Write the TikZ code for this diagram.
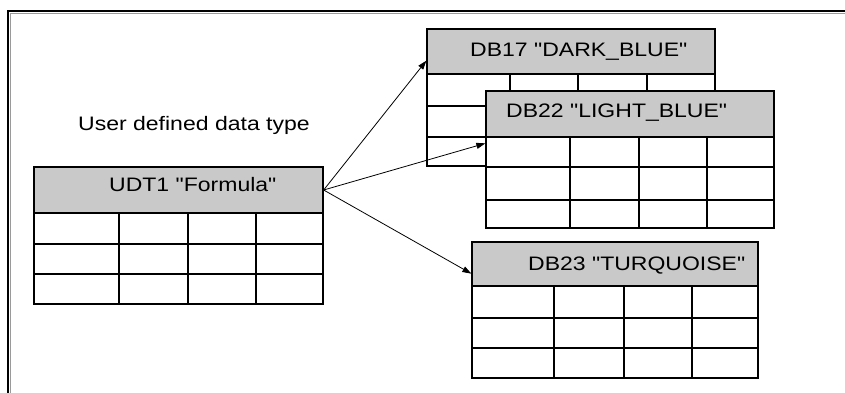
\documentclass[tikz,border=0pt]{standalone}
\usepackage{fontspec}
\usepackage{tikz}
\usetikzlibrary{arrows.meta,positioning}
\newfontfamily\tblfont[FakeStretch=1.18]{Liberation Sans}
\definecolor{hdrgray}{HTML}{C9C9C9}
\definecolor{framegray}{HTML}{9A9A9A}

\begin{document}
\begin{tikzpicture}[x=1pt,y=1pt,
  hdr/.style={rectangle,draw=black,line width=1.3pt,fill=hdrgray,inner sep=0pt},
  body/.style={rectangle,draw=black,line width=1.3pt,fill=white,inner sep=0pt},
  grid/.style={black,line width=1.3pt},
  lbl/.style={anchor=base west,inner sep=0pt,font=\tblfont\fontsize{19.5}{22}\selectfont},
  link/.style={-{Triangle[length=9pt,width=6pt]},black,line width=0.8pt}]
\fill[white] (0,0) rectangle (845,392);
\useasboundingbox (0,0) rectangle (845,392);
% frame
\draw[framegray,line width=1pt] (10.5,-2) -- (10.5,378.5) -- (847,378.5);
\draw[black,line width=2pt] (8,-2) -- (8,381) -- (847,381);
\node[lbl] (udtnote) at (78,261.3) {User defined data type};
% UDT1
\node[hdr,minimum width=289pt,minimum height=46pt] (udth) at (178.5,202) {};
\node[body,minimum width=289pt,minimum height=91pt] (udtb) at (178.5,133.5) {};
\draw[grid] (34,148) -- (323,148);
\draw[grid] (34,118) -- (323,118);
\draw[grid] (119,88) -- (119,179);
\draw[grid] (188,88) -- (188,179);
\draw[grid] (256,88) -- (256,179);
\node[lbl] (udtt) at (109,201) {UDT1 "Formula"};
% DB17
\node[hdr,minimum width=288pt,minimum height=45pt] (d17h) at (571,340.5) {};
\node[body,minimum width=288pt,minimum height=92pt] (d17b) at (571,272) {};
\draw[grid] (427,286) -- (715,286);
\draw[grid] (427,255) -- (715,255);
\draw[grid] (510,226) -- (510,318);
\draw[grid] (578,226) -- (578,318);
\draw[grid] (647,226) -- (647,318);
\node[lbl] (d17t) at (470,335.3) {DB17 "DARK\_BLUE"};
% DB22
\node[hdr,minimum width=288pt,minimum height=46pt] (d22h) at (630,278) {};
\node[body,minimum width=288pt,minimum height=91pt] (d22b) at (630,209.5) {};
\draw[grid] (486,225) -- (774,225);
\draw[grid] (486,192) -- (774,192);
\draw[grid] (570,164) -- (570,255);
\draw[grid] (639,164) -- (639,255);
\draw[grid] (707,164) -- (707,255);
\node[lbl] (d22t) at (506,274.3) {DB22 "LIGHT\_BLUE"};
% DB23
\node[hdr,minimum width=286pt,minimum height=44pt] (d23h) at (615,128) {};
\node[body,minimum width=286pt,minimum height=92pt] (d23b) at (615,60) {};
\draw[grid] (472,74) -- (758,74);
\draw[grid] (472,44) -- (758,44);
\draw[grid] (554,14) -- (554,106);
\draw[grid] (624,14) -- (624,106);
\draw[grid] (692,14) -- (692,106);
\node[lbl] (d23t) at (528,122) {DB23 "TURQUOISE"};
% links
\draw[link] (udth.east) -- ([yshift=14pt]d17h.south west);
\draw[link] (udth.east) -- ([yshift=-7pt]d22b.north west);
\draw[link] (udth.east) -- ([yshift=13pt]d23h.south west);
\end{tikzpicture}
\end{document}
